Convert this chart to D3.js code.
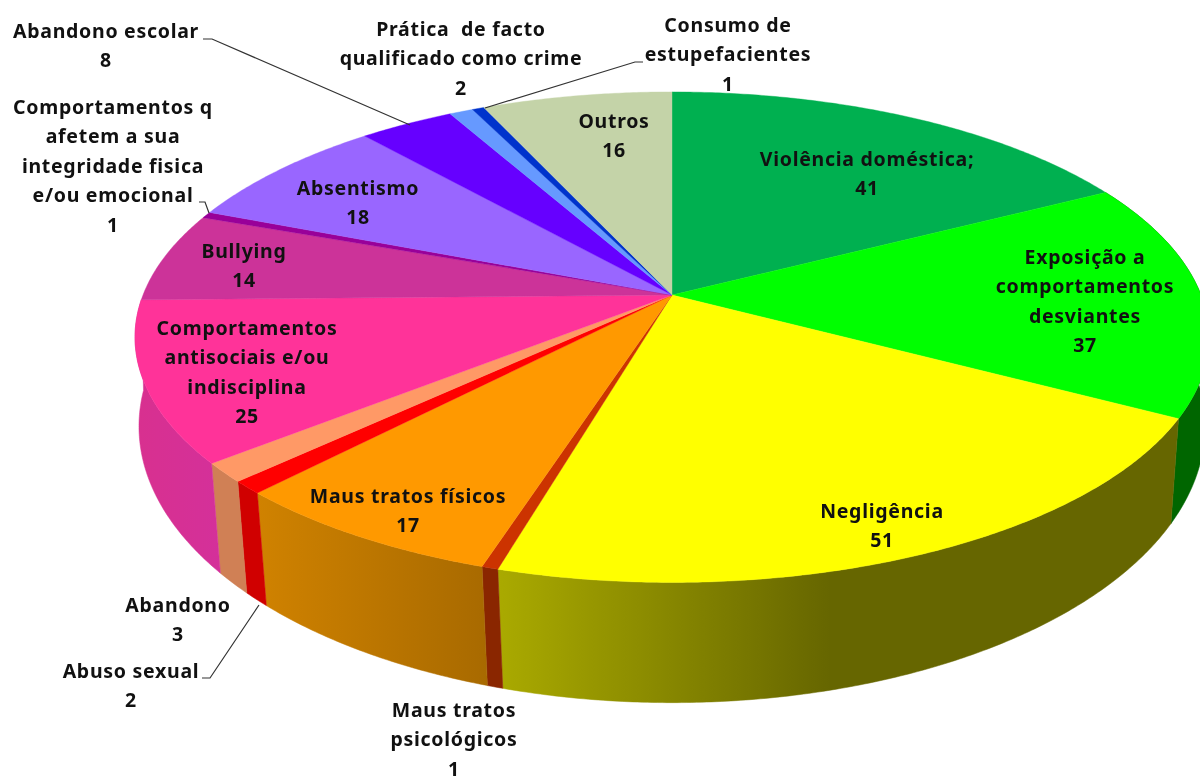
<!DOCTYPE html>
<html><head><meta charset="utf-8">
<script src="https://cdn.jsdelivr.net/npm/d3@7/dist/d3.min.js"></script>
<style>html,body{margin:0;background:#fff}svg{display:block}
text{font-family:"Noto Sans",sans-serif;font-weight:700;font-size:19.5px;letter-spacing:0.72px;fill:#111;text-anchor:middle;dominant-baseline:central}</style>
</head><body><div id="c"></div>
<script>
const categories=["Violência doméstica;","Exposição a comportamentos desviantes","Negligência","Maus tratos psicológicos","Maus tratos físicos","Abuso sexual","Abandono","Comportamentos antisociais e/ou indisciplina","Bullying","Comportamentos q afetem a sua integridade fisica e/ou emocional","Absentismo","Abandono escolar","Prática  de facto qualificado como crime","Consumo de estupefacientes","Outros"];
const values=[41,37,51,1,17,2,3,25,14,1,18,8,2,1,16];
const labelLines=[["Violência doméstica;"],["Exposição a","comportamentos","desviantes"],["Negligência"],["Maus tratos","psicológicos"],["Maus tratos físicos"],["Abuso sexual"],["Abandono"],["Comportamentos","antisociais e/ou","indisciplina"],["Bullying"],["Comportamentos q","afetem a sua","integridade fisica","e/ou emocional"],["Absentismo"],["Abandono escolar"],["Prática  de facto","qualificado como crime"],["Consumo de","estupefacientes"],["Outros"]];
const topColors=["#00b050","#00ff00","#ffff00","#cc3300","#ff9900","#ff0000","#ff9966","#ff3399","#cc3399","#990099","#9966ff","#6600ff","#6699ff","#0033cc","#c4d3a8"];
const wallStart=["#008040","#006600","#aaaa00","#8a2600","#d08200","#d00000","#d08055","#d8308f","#a02880","#700070","#7048c0","#4800c0","#4870c0","#002090","#909c78"];
const wallEnd=["#008040","#006600","#666600","#8a2600","#a86a00","#d00000","#d08055","#d4309a","#a02880","#700070","#7048c0","#4800c0","#4870c0","#002090","#909c78"];
// layout of the labels: centre x, centre y of first line
const labelX=[867,1085,882,454,408,131,178,247,244,113,358,106,461,728,614];
const labelY=[158,256,510,709,495,670,604,327,250,106,187,30,28,24,120];
const lineStep=29.6;
const leaders=[[[203,39],[212,39],[410,125]],[[199,202],[205,202],[209,213]],[[643,62],[635,62],[485,108]],[[202,678],[210,678],[259,605]]];
const W=1200,H=781;
const topFace={cx:672,cy:295,a:529,b:238,k:-0.172};
const botFace={cx:672,cy:385,a:527,b:270,k:-0.15};
const proj=(f,t)=>{const u=Math.sin(t),v=-Math.cos(t),d=1+f.k*v;return [f.cx+f.a*u/d,f.cy+f.b*v/d];};
const arcs=d3.pie().sort(null).startAngle(0).endAngle(2*Math.PI)(values);
const samp=(a0,a1)=>{const n=Math.max(2,Math.ceil((a1-a0)/0.008));return d3.range(n+1).map(i=>a0+(a1-a0)*i/n);};
const line=d3.line();
const svg=d3.select("#c").append("svg").attr("width",W).attr("height",H).style("filter","blur(0.5px)");
const defs=svg.append("defs");
const wallX=arcs.map(d=>d3.extent(samp(d.startAngle,d.endAngle).flatMap(t=>[proj(topFace,t)[0],proj(botFace,t)[0]])));
arcs.forEach((d,i)=>{
  const g=defs.append("linearGradient").attr("id","w"+i).attr("gradientUnits","userSpaceOnUse")
   .attr("x1",wallX[i][0]).attr("x2",i==2?830:wallX[i][1]).attr("y1",0).attr("y2",0);
  g.append("stop").attr("offset",0).attr("stop-color",wallStart[i]);
  g.append("stop").attr("offset",1).attr("stop-color",wallEnd[i]);
});
const walls=svg.append("g");
const mid=d=>(d.startAngle+d.endAngle)/2;
// only slices facing the viewer show a wall
arcs.forEach((d,i)=>{
  if(Math.cos(mid(d))>0.05) return;
  const ts=samp(d.startAngle,d.endAngle);
  const pts=ts.map(t=>proj(topFace,t)).concat(ts.slice().reverse().map(t=>proj(botFace,t)));
  walls.append("path").attr("d",line(pts)+"Z").attr("fill",`url(#w${i})`).attr("stroke",`url(#w${i})`).attr("stroke-width",0.5);
});
const tops=svg.append("g");
arcs.forEach((d,i)=>{
  const pts=[[topFace.cx,topFace.cy]].concat(samp(d.startAngle,d.endAngle).map(t=>proj(topFace,t)));
  tops.append("path").attr("d",line(pts)+"Z").attr("fill",topColors[i]).attr("stroke",topColors[i]).attr("stroke-width",0.4);
});
svg.append("g").selectAll("path").data(leaders).join("path").attr("d",d=>line(d)).attr("fill","none").attr("stroke","#333").attr("stroke-width",1.2);
const labels=svg.append("g");
categories.forEach((c,i)=>{
  const ls=labelLines[i].concat([String(values[i])]);
  ls.forEach((s,j)=>labels.append("text").attr("x",labelX[i]).attr("y",labelY[i]+j*lineStep).style("white-space","pre").text(s));
});
</script></body></html>
